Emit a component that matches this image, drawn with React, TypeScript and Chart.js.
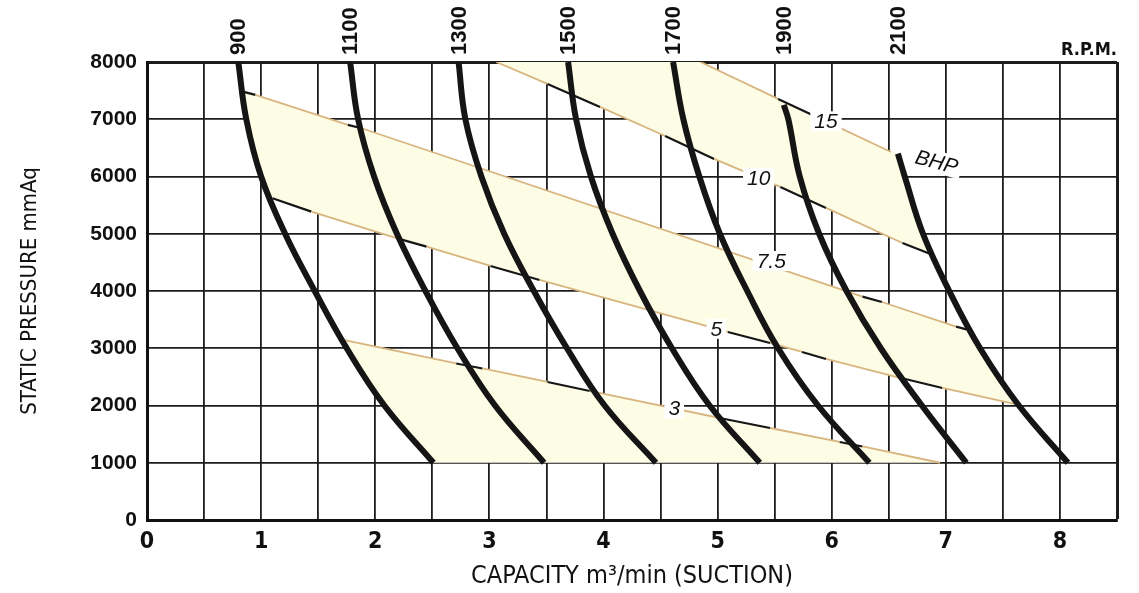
import React, { useEffect, useRef } from 'react';
import { Chart, registerables } from 'chart.js';

Chart.register(...registerables);

// ---------- data ----------
const pressureLevels = [8000, 7000, 6000, 5000, 4000, 3000, 2000, 1000];
const pressure1900 = [7250, 7000, 6000, 5000, 4000, 3000, 2000, 1000];
const pressure2100 = [6400, 6000, 5000, 4000, 3000, 2000, 1000];
const pressureTicks = [0, 1000, 2000, 3000, 4000, 5000, 6000, 7000, 8000];

const rpmLabels = ['900', '1100', '1300', '1500', '1700', '1900', '2100'];
const capacity900 = [0.8, 0.87, 1.0, 1.21, 1.47, 1.75, 2.08, 2.51];
const capacity1100 = [1.78, 1.85, 1.99, 2.19, 2.44, 2.72, 3.05, 3.48];
const capacity1300 = [2.73, 2.79, 2.93, 3.13, 3.39, 3.68, 4.01, 4.46];
const capacity1500 = [3.69, 3.76, 3.89, 4.08, 4.32, 4.6, 4.93, 5.37];
const capacity1700 = [4.61, 4.7, 4.84, 5.02, 5.26, 5.53, 5.88, 6.33];
const capacity1900 = [5.58, 5.62, 5.72, 5.89, 6.13, 6.43, 6.79, 7.18];
const capacity2100 = [6.58, 6.64, 6.8, 7.03, 7.3, 7.64, 8.07];

const bhpLabels = ['3', '5', '7.5', '10', '15'];
const bhp3Capacity = [1.72, 2.71, 2.94, 3.51, 3.88, 5.04, 5.46, 6.07, 6.27, 6.95];
const bhp3Pressure = [3145, 2734, 2647, 2411, 2254, 1773, 1607, 1363, 1284, 1000];
const bhp5Capacity = [1.1, 1.44, 2.2, 2.45, 3.01, 3.44, 5.09, 5.46, 5.74, 5.95, 6.59, 6.97, 7.6];
const bhp5Pressure = [5620, 5386, 4914, 4775, 4437, 4193, 3284, 3092, 2935, 2813, 2489, 2306, 2030];
const bhp75Capacity = [0.83, 0.95, 1.76, 1.88, 6.27, 6.44, 7.09, 7.18];
const bhp75Pressure = [7486, 7425, 6901, 6843, 3901, 3808, 3377, 3330];
const bhp10Capacity = [3.06, 3.51, 3.97, 4.54, 4.97, 5.55, 5.95, 6.62, 6.86];
const bhp10Pressure = [8000, 7617, 7215, 6708, 6307, 5818, 5451, 4839, 4651];
const bhp15Capacity = [4.85, 5.53, 5.85, 6.52];
const bhp15Pressure = [8000, 7355, 7058, 6429];

// style: which segments of each BHP line are printed dark
const bhp3Dark = [1, 3, 5, 7];
const bhp5Dark = [0, 2, 4, 6, 8, 10];
const bhp75Dark = [0, 2, 4, 6];
const bhp10Dark = [1, 3, 5, 7];
const bhp15Dark = [1];

// label anchors (capacity along each BHP line)
const bhpLabelCapacity = [4.62, 4.99, 5.47, 5.36, 5.95];
const bhpLabelShift = [0, 0, -5, 0, 0];
const bhpUnitLabel = 'BHP';
const bhpUnitAnchor = { x: 6.92, y: 6254 };

// ---------- helpers ----------
type P = { x: number; y: number };
const toPoints = (xs: number[], ys: number[]): P[] => xs.map((x, i) => ({ x, y: ys[i] }));
const between = (pts: P[], lo: number, hi: number) => pts.filter((p) => p.y > lo && p.y < hi);

const curves = [
  toPoints(capacity900, pressureLevels),
  toPoints(capacity1100, pressureLevels),
  toPoints(capacity1300, pressureLevels),
  toPoints(capacity1500, pressureLevels),
  toPoints(capacity1700, pressureLevels),
  toPoints(capacity1900, pressure1900),
  toPoints(capacity2100, pressure2100),
];

const bhpLines = [
  toPoints(bhp3Capacity, bhp3Pressure),
  toPoints(bhp5Capacity, bhp5Pressure),
  toPoints(bhp75Capacity, bhp75Pressure),
  toPoints(bhp10Capacity, bhp10Pressure),
  toPoints(bhp15Capacity, bhp15Pressure),
];
const bhpDark = [bhp3Dark, bhp5Dark, bhp75Dark, bhp10Dark, bhp15Dark];

const c900 = curves[0];
const c2100 = curves[6];
const [l3, l5, l75, l10, l15] = bhpLines;

const band3 = [...l3, ...between(c900, 999, l3[0].y).reverse()];
const band5 = [
  ...l75,
  ...between(c2100, l5[l5.length - 1].y, l75[l75.length - 1].y),
  ...[...l5].reverse(),
  ...between(c900, l5[0].y, l75[0].y).reverse(),
];
const band10 = [
  ...l15,
  ...between(c2100, l10[l10.length - 1].y, l15[l15.length - 1].y),
  ...[...l10].reverse(),
];

// ---------- styling ----------
const TAN = '#d8b57f';
const DARK = '#161616';
const FILL = '#fdfce5';
const NARROW = "'Liberation Sans Narrow', 'DejaVu Sans Condensed', 'Roboto Condensed', 'Liberation Sans', sans-serif";
const SANS = "'Liberation Sans', Arial, sans-serif";

const interpAt = (pts: P[], x: number) => {
  for (let i = 0; i < pts.length - 1; i++) {
    const a = pts[i], b = pts[i + 1];
    if (x >= a.x && x <= b.x) return a.y + ((x - a.x) / (b.x - a.x)) * (b.y - a.y);
  }
  return pts[pts.length - 1].y;
};

const annotationPlugin = {
  id: 'fanAnnotations',
  afterDraw(chart: any) {
    const { ctx, chartArea } = chart;
    const xs = chart.scales.x;
    const ys = chart.scales.y;
    ctx.save();
    // RPM labels
    ctx.fillStyle = '#111';
    ctx.font = `bold 22px ${SANS}`;
    curves.forEach((c, i) => {
      const px = xs.getPixelForValue(c[0].x);
      ctx.save();
      ctx.translate(px, chartArea.top - 7);
      ctx.rotate(-Math.PI / 2);
      ctx.textAlign = 'left';
      ctx.textBaseline = 'middle';
      ctx.fillText(rpmLabels[i], 0, 1);
      ctx.restore();
    });
    ctx.font = `bold 18px ${NARROW}`;
    ctx.textAlign = 'right';
    ctx.textBaseline = 'alphabetic';
    ctx.fillText('R.P.M.', chartArea.right, chartArea.top - 7);

    // BHP values
    ctx.font = `italic 21px ${SANS}`;
    ctx.textAlign = 'center';
    ctx.textBaseline = 'middle';
    bhpLabels.forEach((t, i) => {
      const xv = bhpLabelCapacity[i];
      const yv = interpAt(bhpLines[i], xv);
      const px = xs.getPixelForValue(xv);
      const py = ys.getPixelForValue(yv) + bhpLabelShift[i];
      const w = ctx.measureText(t).width;
      ctx.fillStyle = '#fff';
      ctx.fillRect(px - w / 2 - 4, py - 10, w + 8, 20);
      ctx.fillStyle = '#111';
      ctx.fillText(t, px, py + 1);
    });
    // BHP unit
    {
      const px = xs.getPixelForValue(bhpUnitAnchor.x);
      const py = ys.getPixelForValue(bhpUnitAnchor.y);
      ctx.save();
      ctx.translate(px, py);
      ctx.rotate((15 * Math.PI) / 180);
      const w = ctx.measureText(bhpUnitLabel).width;
      ctx.fillStyle = '#fff';
      ctx.fillRect(-w / 2 - 4, -11, w + 8, 22);
      ctx.fillStyle = '#111';
      ctx.fillText(bhpUnitLabel, 0, 1);
      ctx.restore();
    }
    ctx.restore();
  },
};

export default function App() {
  const ref = useRef<HTMLCanvasElement>(null);
  useEffect(() => {
    const canvas = ref.current!;
    const polygon = (data: P[]) => ({
      data,
      fill: 'shape',
      backgroundColor: FILL,
      borderWidth: 0,
      borderColor: 'rgba(0,0,0,0)',
      pointRadius: 0,
      tension: 0,
      order: 3,
    });
    const datasets: any[] = [
      polygon(band3),
      polygon(band5),
      polygon(band10),
      ...bhpLines.map((pts, i) => ({
        data: pts,
        fill: false,
        borderColor: TAN,
        borderWidth: 1.8,
        pointRadius: 0,
        tension: 0,
        order: 2,
        segment: {
          borderColor: (c: any) => (bhpDark[i].includes(c.p0DataIndex) ? DARK : TAN),
          borderWidth: (c: any) => (bhpDark[i].includes(c.p0DataIndex) ? 2.2 : 1.8),
        },
      })),
      ...curves.map((pts) => ({
        data: pts,
        fill: false,
        borderColor: '#151515',
        borderWidth: 6,
        borderCapStyle: 'butt',
        pointRadius: 0,
        tension: 0.4,
        order: 1,
      })),
    ];
    const chart = new Chart(canvas, {
      type: 'line',
      data: { datasets },
      options: {
        animation: false,
        responsive: false,
        events: [],
        layout: { padding: { top: 62, right: 22, left: 0, bottom: 0 } },
        plugins: { legend: { display: false }, tooltip: { enabled: false } },
        scales: {
          x: {
            type: 'linear',
            min: 0,
            max: 8.5,
            position: 'bottom',
            z: 1,
            afterFit: (s: any) => {
              s.height = 73;
            },
            ticks: {
              stepSize: 0.5,
              autoSkip: false,
              maxRotation: 0,
              minRotation: 0,
              padding: 8,
              color: '#111',
              font: { family: NARROW, size: 23, weight: 'bold' },
              callback: (v: any) => (Number.isInteger(v) ? String(v) : ''),
            },
            grid: {
              color: '#1c1c1c',
              lineWidth: (c: any) => (c.tick && c.tick.value === 8.5 ? 3 : 1.8),
              drawTicks: false,
            },
            border: { display: true, color: '#111', width: 3 },
            title: {
              display: true,
              text: 'CAPACITY m³/min (SUCTION)',
              color: '#111',
              font: { family: NARROW, size: 25, weight: 'normal' },
              padding: { top: 0, bottom: 2 },
            },
          },
          y: {
            type: 'linear',
            min: 0,
            max: 8000,
            z: 1,
            afterFit: (s: any) => {
              s.width = 147;
            },
            afterBuildTicks: (s: any) => {
              s.ticks = pressureTicks.map((v) => ({ value: v }));
            },
            ticks: {
              padding: 10,
              color: '#111',
              font: { family: SANS, size: 21, weight: 'bold' },
              callback: (v: any) => String(v),
            },
            grid: {
              color: '#1c1c1c',
              lineWidth: (c: any) => (c.tick && c.tick.value === 8000 ? 3 : 1.8),
              drawTicks: false,
            },
            border: { display: true, color: '#111', width: 3 },
            title: {
              display: true,
              text: 'STATIC PRESSURE mmAq',
              color: '#111',
              font: { family: NARROW, size: 22, weight: 'normal' },
              padding: { top: 17, bottom: 0 },
            },
          },
        },
      },
      plugins: [annotationPlugin],
    } as any);
    return () => chart.destroy();
  }, []);
  return (
    <div style={{ position: 'fixed', left: 0, top: 0, width: 1139, height: 593, background: '#fff' }}>
      <canvas ref={ref} width={1139} height={593} style={{ display: 'block', width: 1139, height: 593 }} />
    </div>
  );
}
